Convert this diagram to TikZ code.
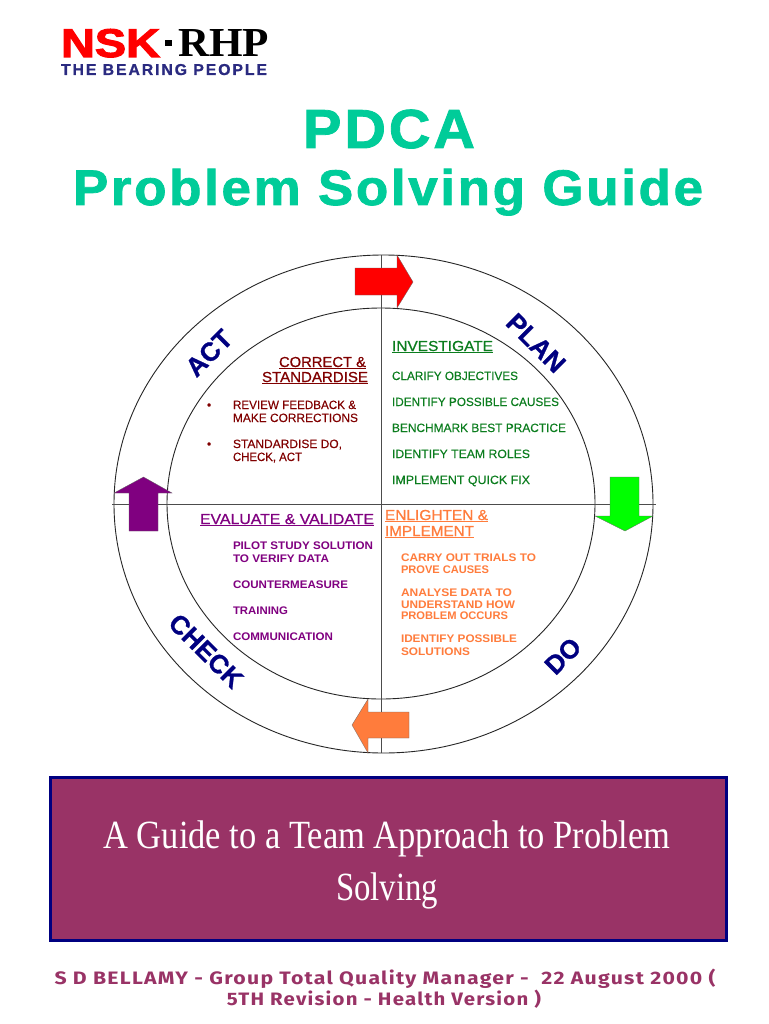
\documentclass[tikz,border=0pt]{standalone}
\usepackage{fontspec}
\usepackage{graphicx}
\setmainfont{Liberation Sans}
\newfontfamily\titlefont[BoldFeatures={FakeBold=1.5,LetterSpace=5}]{Liberation Sans}
\newfontfamily\logofont[BoldFeatures={FakeBold=2.5}]{Liberation Sans}
\newfontfamily\tagfont[BoldFeatures={LetterSpace=12,FakeBold=1}]{Liberation Sans}
\newfontfamily\bannerfont{Liberation Serif}
\newfontfamily\rhpfont{Liberation Serif}
\newfontfamily\footfont[BoldFeatures={LetterSpace=6}]{Fira Sans}
\newfontfamily\semifont[FakeBold=0.7]{Liberation Sans}
\newfontfamily\lightfont[FakeBold=0.25]{Liberation Sans}
\newfontfamily\ringfont[BoldFeatures={FakeBold=1}]{Liberation Sans}
\definecolor{titleteal}{HTML}{00CC99}
\definecolor{plumfill}{HTML}{993366}
\definecolor{bordernavy}{HTML}{000080}
\definecolor{tagnavy}{HTML}{2A2A80}
\definecolor{brownred}{HTML}{800000}
\definecolor{leaf}{HTML}{0B7D1E}
\definecolor{violetp}{HTML}{800080}
\definecolor{orangeT}{HTML}{FF7C3C}
\newcommand{\fitw}[2]{\resizebox{#1pt}{\height}{#2}}
\newcommand{\fs}[1]{\fontsize{#1}{#1}\selectfont}
\tikzset{
  txt/.style={anchor=base west,inner sep=0pt,outer sep=0pt},
  ctr/.style={anchor=base,inner sep=0pt,outer sep=0pt},
  ringlabel/.style={anchor=center,inner sep=0pt,text=bordernavy,font=\fs{26}\ringfont\bfseries},
  sm/.style={txt,font=\fs{12}\lightfont},
  smb/.style={txt,font=\fs{11}\bfseries},
  hd/.style={txt,font=\fs{14.5}\semifont},
  ringline/.style={draw=black!85,line width=0.9pt},
  axisline/.style={draw=black!70,line width=1pt},
  blockarrow/.style={draw=black!60,line width=0.3pt},
}
\begin{document}
\begin{tikzpicture}[x=1pt,y=-1pt]
\useasboundingbox (0,0) rectangle (768,1024);
\fill[white] (0,0) rectangle (768,1024);
% logo
\node[txt,text=red,font=\fs{36}\logofont\bfseries] (nsk) at (61,57) {\resizebox{99pt}{28pt}{NSK}};
\fill[black] (165,40) rectangle (172,46);
\node[txt,text=black,font=\fs{36}\rhpfont\bfseries] (rhp) at (178,57) {\resizebox{91pt}{27pt}{RHP}};
\node[txt,text=tagnavy,font=\fs{14}\tagfont\bfseries] (tag) at (61,75) {\resizebox{206pt}{11pt}{THE BEARING PEOPLE}};
% title
\node[ctr,text=titleteal,font=\fs{55}\titlefont\bfseries] (t1) at (389,148) {\fitw{172}{PDCA}};
\node[ctr,text=titleteal,font=\fs{50}\titlefont\bfseries] (t2) at (388,205) {\fitw{630}{Problem Solving Guide}};
% ring
\draw[ringline] (383.5,504) ellipse [x radius=269.5,y radius=249];
\draw[ringline] (381,503.5) ellipse [x radius=214,y radius=195.5];
\draw[axisline] (381,255) -- (381,753);
\draw[axisline] (112,504) -- (656,504);
% arrows
\draw[blockarrow,fill=red] (355,268) -- (397,268) -- (397,255) -- (413,282) -- (397,308) -- (397,295) -- (355,295) -- cycle;
\draw[blockarrow,fill=green] (610,477) -- (639,477) -- (639,516) -- (653,516) -- (625,531) -- (595,516) -- (610,516) -- cycle;
\draw[blockarrow,fill=orangeT] (409,712) -- (368,712) -- (368,699) -- (352,725) -- (368,753) -- (368,738) -- (409,738) -- cycle;
\draw[blockarrow,fill=violetp] (129,531) -- (158,531) -- (158,493) -- (172,493) -- (143.5,477) -- (114,493) -- (129,493) -- cycle;
% ring labels
\node[ringlabel,rotate=45] (act) at (209,353) {ACT};
\node[ringlabel,rotate=-45] (plan) at (536,343) {PLAN};
\node[ringlabel,rotate=45] (do) at (563,656) {DO};
\node[ringlabel,rotate=-45] (check) at (206,651) {CHECK};
% ACT quadrant
\begin{scope}[text=brownred]
\node[hd] (a0) at (279,367) {\fitw{87}{\underline{CORRECT \&}}};
\node[hd] (a1) at (262,382) {\fitw{106}{\underline{STANDARDISE}}};
\node[sm] (ab1) at (207,409) {•};
\node[sm] (ab2) at (207,448) {•};
\node[sm] (a2) at (233,409) {\fitw{123}{REVIEW FEEDBACK \&}};
\node[sm] (a3) at (233,422) {\fitw{125}{MAKE CORRECTIONS}};
\node[sm] (a4) at (233,448) {\fitw{109}{STANDARDISE DO,}};
\node[sm] (a5) at (233,461) {\fitw{69}{CHECK, ACT}};
\end{scope}
% PLAN quadrant
\begin{scope}[text=leaf]
\node[hd] (p0) at (392,351) {\fitw{101}{\underline{INVESTIGATE}}};
\node[sm] (p1) at (392,380) {\fitw{126}{CLARIFY OBJECTIVES}};
\node[sm] (p2) at (392,406) {\fitw{167}{IDENTIFY POSSIBLE CAUSES}};
\node[sm] (p3) at (392,432) {\fitw{174}{BENCHMARK BEST PRACTICE}};
\node[sm] (p4) at (392,458) {\fitw{138}{IDENTIFY TEAM ROLES}};
\node[sm] (p5) at (392,484) {\fitw{138}{IMPLEMENT QUICK FIX}};
\end{scope}
% CHECK quadrant
\begin{scope}[text=violetp]
\node[hd] (c0) at (200,524) {\fitw{174}{\underline{EVALUATE \& VALIDATE}}};
\node[smb] (c1) at (233,549) {\fitw{140}{PILOT STUDY SOLUTION}};
\node[smb] (c2) at (233,562) {\fitw{96}{TO VERIFY DATA}};
\node[smb] (c3) at (233,588) {\fitw{115}{COUNTERMEASURE}};
\node[smb] (c4) at (233,614) {\fitw{55}{TRAINING}};
\node[smb] (c5) at (233,640) {\fitw{100}{COMMUNICATION}};
\end{scope}
% DO quadrant
\begin{scope}[text=orangeT]
\node[hd] (d0) at (385,520) {\fitw{103}{\underline{ENLIGHTEN \&}}};
\node[hd] (d1) at (385,536) {\fitw{89}{\underline{IMPLEMENT}}};
\node[smb] (d2) at (401,561) {\fitw{135}{CARRY OUT TRIALS TO}};
\node[smb] (d3) at (401,573) {\fitw{88}{PROVE CAUSES}};
\node[smb] (d4) at (401,596) {\fitw{111}{ANALYSE DATA TO}};
\node[smb] (d5) at (401,608) {\fitw{114}{UNDERSTAND HOW}};
\node[smb] (d6) at (401,619) {\fitw{107}{PROBLEM OCCURS}};
\node[smb] (d7) at (401,642) {\fitw{116}{IDENTIFY POSSIBLE}};
\node[smb] (d8) at (401,655) {\fitw{69}{SOLUTIONS}};
\end{scope}
% banner
\draw[draw=bordernavy,line width=3pt,fill=plumfill] (50.5,777) rectangle (726,940);
\node[ctr,text=white,font=\fs{40}\bannerfont] (b1) at (387,848) {\fitw{567}{A Guide to a Team Approach to Problem}};
\node[ctr,text=white,font=\fs{40}\bannerfont] (b2) at (387,900) {\fitw{102}{Solving}};
% footer
\node[ctr,text=plumfill,font=\fs{18}\footfont\bfseries] (f1) at (385,984) {\fitw{661}{S D BELLAMY - Group Total Quality Manager -\ \ 22 August 2000 (}};
\node[ctr,text=plumfill,font=\fs{18}\footfont\bfseries] (f2) at (384,1005) {\fitw{314}{5TH Revision - Health Version )}};
\end{tikzpicture}
\end{document}
